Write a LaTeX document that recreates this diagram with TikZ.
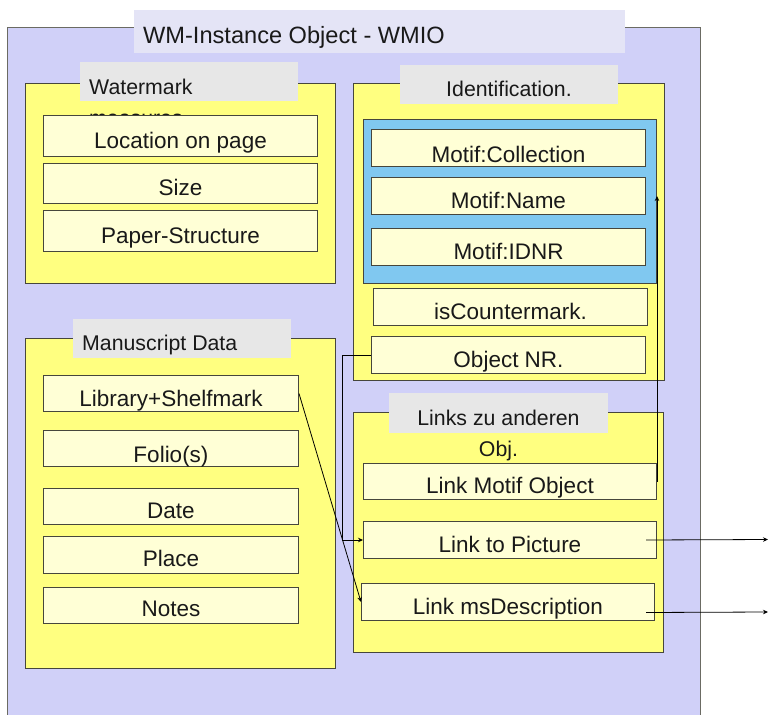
\documentclass[tikz,border=0pt]{standalone}
\usepackage{fontspec}
\setmainfont{Liberation Sans}
\usetikzlibrary{arrows.meta}
\definecolor{lav}{RGB}{208,208,248}
\definecolor{titlebg}{RGB}{228,228,246}
\definecolor{lblbg}{RGB}{231,231,231}
\definecolor{ylw}{RGB}{255,255,128}
\definecolor{cream}{RGB}{255,255,214}
\definecolor{skyb}{RGB}{128,200,240}
\definecolor{edge}{RGB}{70,70,60}
\definecolor{ink}{RGB}{25,25,25}
\tikzset{
  outerbox/.style={draw=edge!80, line width=1pt, fill=lav, anchor=north west, inner sep=0pt},
  titlebox/.style={fill=titlebg, anchor=north west, inner sep=0pt},
  container/.style={draw=edge, line width=1pt, fill=ylw, anchor=north west, inner sep=0pt},
  bluebox/.style={draw=edge, line width=1pt, fill=skyb, anchor=north west, inner sep=0pt},
  lblbox/.style={fill=lblbg, anchor=north west, inner sep=0pt},
  lbltxt/.style={text=ink, inner sep=0pt, font=\fontsize{21.3}{24}\selectfont},
  fld/.style={draw=edge, line width=1pt, fill=cream, anchor=north west, inner sep=0pt,
     text height=31pt, text=ink, font=\fontsize{22.5}{25}\selectfont},
  conn/.style={draw=black, line width=0.8pt, -{Stealth[length=5pt,width=4.5pt]}}
}
\begin{document}
\begin{tikzpicture}[x=1pt,y=-1pt]
\useasboundingbox (0,0) rectangle (769,715);
% outer object
\node[outerbox, minimum width=693pt, minimum height=710pt] (wmio) at (7,27) {};
\node[titlebox, minimum width=491pt, minimum height=43pt] (ttlbox) at (134,10) {};
\node[lbltxt, anchor=base west, font=\fontsize{23.6}{26}\selectfont] (ttl) at (143,43) {WM-Instance Object - WMIO};
% containers
\node[container, minimum width=310pt, minimum height=200pt] (wm) at (25,83) {};
\node[container, minimum width=310pt, minimum height=330pt] (ms) at (25,338) {};
\node[container, minimum width=311pt, minimum height=297pt] (id) at (353,83) {};
\node[container, minimum width=310pt, minimum height=240pt] (ln) at (353,412) {};
% labels
\node[lblbox, minimum width=218pt, minimum height=39pt] (wmlb) at (80,62) {};
\node[lbltxt, anchor=base west] (wmt1) at (89,94) {Watermark};
\node[lbltxt, anchor=base west] (wmt2) at (89,125) {measures};
\node[lblbox, minimum width=218pt, minimum height=39pt] (mslb) at (73,319) {};
\node[lbltxt, anchor=base west] (mst) at (82,350) {Manuscript Data};
\node[lblbox, minimum width=218pt, minimum height=39pt] (idlb) at (400,65) {};
\node[lbltxt, anchor=base] (idt) at (509,96) {Identification.};
\node[lblbox, minimum width=219pt, minimum height=40pt] (lnlb) at (389,393) {};
\node[lbltxt, anchor=base] (lnt1) at (498.5,425) {Links zu anderen};
\node[lbltxt, anchor=base] (lnt2) at (498.5,456) {Obj.};
% blue motif box
\node[bluebox, minimum width=293pt, minimum height=164pt] (motif) at (363,119) {};
% watermark fields
\node[fld, minimum width=274pt, minimum height=41pt, text depth=8pt, text height=33pt] (loc) at (43,115) {Location on page};
\node[fld, minimum width=274pt, minimum height=40pt, text depth=8pt, text height=32pt] (size) at (43,163) {Size};
\node[fld, minimum width=274pt, minimum height=41pt, text depth=8pt, text height=33pt] (paper) at (43,210) {Paper-Structure};
% manuscript fields
\node[fld, minimum width=255pt, minimum height=36pt, text depth=5pt] (lib) at (43,375) {Library+Shelfmark};
\node[fld, minimum width=255pt, minimum height=36pt, text depth=4pt, text height=32pt] (folio) at (43,430) {Folio(s)};
\node[fld, minimum width=255pt, minimum height=36pt, text depth=6pt, text height=30pt] (date) at (43,488) {Date};
\node[fld, minimum width=255pt, minimum height=37pt, text depth=7pt, text height=30pt] (place) at (43,536) {Place};
\node[fld, minimum width=255pt, minimum height=36pt, text depth=7pt, text height=29pt] (notes) at (43,587) {Notes};
% identification fields
\node[fld, minimum width=274pt, minimum height=37pt, text depth=4pt, text height=33pt] (mcol) at (371,129) {Motif:Collection};
\node[fld, minimum width=274pt, minimum height=37pt, text depth=6pt] (mname) at (371,177) {Motif:Name};
\node[fld, minimum width=274pt, minimum height=37pt, text depth=6pt] (midnr) at (371,228) {Motif:IDNR};
\node[fld, minimum width=274pt, minimum height=37pt, text depth=6pt] (iscm) at (373,288) {isCountermark.};
\node[fld, minimum width=274pt, minimum height=37pt, text depth=6pt] (onr) at (371,336) {Object NR.};
% link fields
\node[fld, minimum width=293pt, minimum height=36pt, text depth=6pt, text height=30pt] (lmo) at (363,463) {Link Motif Object};
\node[fld, minimum width=293pt, minimum height=37pt, text depth=6pt] (ltp) at (363,521) {Link to Picture};
\node[fld, minimum width=293pt, minimum height=37pt, text depth=6pt] (lmd) at (361,583) {Link msDescription};
% connectors
\coordinate (picout) at (768,539.5);
\coordinate (msout) at (768,612);
\draw[conn] (onr.west) -- ++(-29,0) |- (ltp.west);
\draw[conn] (lmo.east) -- (lmo.east |- mname.east);
\draw[conn] (lib.east) -- (lmd.west);
\draw[conn] ([xshift=-11pt]ltp.east) -- (picout);
\draw[conn] ([xshift=-9pt,yshift=-10.5pt]lmd.east) -- (msout);
\end{tikzpicture}
\end{document}
